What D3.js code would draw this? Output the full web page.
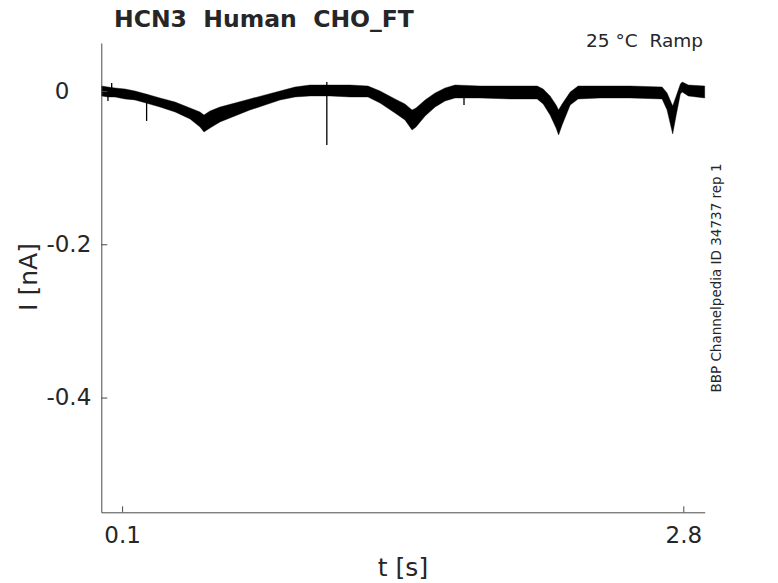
<!DOCTYPE html>
<html>
<head>
<meta charset="utf-8">
<script src="https://cdn.jsdelivr.net/npm/d3@7"></script>
<style>
  html, body { margin: 0; padding: 0; background: #fff; }
  svg { display: block; }
  text { font-family: "DejaVu Sans", sans-serif; fill: #262626; white-space: pre; }
</style>
</head>
<body>
<svg id="chart" width="778" height="583"></svg>
<script>
// ---- data ----
const title = "HCN3  Human  CHO_FT";
const subtitle = "25 °C  Ramp";
const sideNote = "BBP Channelpedia ID 34737 rep 1";
const xLabel = "t [s]";
const yLabel = "I [nA]";
const xTicks = [0.1, 2.8];
const yTicks = [0, -0.2, -0.4];
const xDomain = [0, 2.903];
const yDomain = [-0.5497, 0.0626];

// time (s) and the upper / lower edge of the noisy current trace (nA)
const time = [0.001,0.032,0.066,0.114,0.162,0.215,0.282,0.355,0.427,0.475,0.494,0.523,0.571,0.643,0.715,0.788,0.860,0.932,1.004,1.100,1.197,1.283,1.341,1.413,1.461,1.495,1.514,1.558,1.606,1.654,1.702,1.822,1.967,2.097,2.126,2.159,2.188,2.200,2.217,2.256,2.294,2.400,2.544,2.698,2.722,2.749,2.766,2.786,2.795,2.824,2.903];
const upper = [0.0065,0.0052,0.0039,0.0026,0,-0.0039,-0.0091,-0.0144,-0.0222,-0.0274,-0.0313,-0.0261,-0.0209,-0.0157,-0.0104,-0.0052,0,0.0052,0.0078,0.0078,0.0078,0.0065,0,-0.0104,-0.0170,-0.0248,-0.0222,-0.0117,-0.0026,0.0039,0.0078,0.0065,0.0065,0.0065,0.0026,-0.0065,-0.0183,-0.0248,-0.0170,-0.0013,0.0065,0.0065,0.0065,0.0052,-0.0026,-0.0196,-0.0065,0.0091,0.0117,0.0078,0.0065];
const lower = [-0.0065,-0.0078,-0.0078,-0.0104,-0.0117,-0.0157,-0.0209,-0.0274,-0.0365,-0.0470,-0.0535,-0.0483,-0.0404,-0.0326,-0.0248,-0.0183,-0.0117,-0.0078,-0.0065,-0.0065,-0.0078,-0.0078,-0.0157,-0.0287,-0.0378,-0.0509,-0.0470,-0.0326,-0.0209,-0.0130,-0.0091,-0.0091,-0.0104,-0.0104,-0.0170,-0.0313,-0.0483,-0.0574,-0.0444,-0.0183,-0.0104,-0.0091,-0.0091,-0.0104,-0.0248,-0.0561,-0.0313,-0.0039,-0.0013,-0.0065,-0.0091];

// brief artefact spikes: time, top, bottom (nA)
const spikeTime = [0.032, 0.050, 0.218, 1.085, 1.745];
const spikeTop  = [-0.002, 0.0104, -0.004, 0.0117, -0.005];
const spikeBot  = [-0.013, -0.004, -0.0391, -0.0704, -0.0183];

// ---- drawing ----
const svg = d3.select("#chart");
const x = d3.scaleLinear().domain(xDomain).range([101.3, 704.7]);
const y = d3.scaleLinear().domain(yDomain).range([512.3, 43]);

const band = time.map((t, i) => ({ t, hi: upper[i], lo: lower[i] }));

svg.append("path")
  .datum(band)
  .attr("d", d3.area().x(d => x(d.t)).y0(d => y(d.lo)).y1(d => y(d.hi)))
  .attr("fill", "#000")
  .attr("stroke", "#000")
  .attr("stroke-width", 0.4)
  .attr("stroke-linejoin", "round");

svg.append("g").selectAll("line")
  .data(spikeTime.map((t, i) => ({ t, a: spikeTop[i], b: spikeBot[i] })))
  .join("line")
  .attr("x1", d => x(d.t)).attr("x2", d => x(d.t))
  .attr("y1", d => y(d.a)).attr("y2", d => y(d.b))
  .attr("stroke", "#000").attr("stroke-width", 1.3);

// axes (MATLAB-like: inward ticks, no box)
const axisColor = "#4a4a4a";
const fmt = d => d === 0 ? "0" : d3.format(".1f")(d).replace("\u2212", "-");
const xAxis = svg.append("g").attr("transform", "translate(0,512.3)")
  .call(d3.axisBottom(x).tickValues(xTicks).tickSizeInner(-6).tickSizeOuter(0).tickPadding(14)
        .tickFormat(fmt));
const yAxis = svg.append("g").attr("transform", "translate(101.3,0)")
  .call(d3.axisLeft(y).tickValues(yTicks).tickSizeInner(-6).tickSizeOuter(0).tickPadding(10)
        .tickFormat(fmt));
[xAxis, yAxis].forEach(g => {
  g.select(".domain").attr("stroke", axisColor).attr("stroke-width", 1);
  g.selectAll(".tick line").attr("stroke", axisColor);
  g.selectAll(".tick text").attr("font-family", "DejaVu Sans").attr("font-size", 23).attr("fill", "#262626");
});
// the "0" label sits further left in the reference
yAxis.selectAll(".tick text").filter(d => d === 0).attr("dx", "-22px");

// labels
svg.append("text").attr("x", 114).attr("y", 27)
  .attr("font-size", 23.5).attr("font-weight", "bold").attr("fill", "#000")
  .text(title);
svg.append("text").attr("x", 703).attr("y", 47).attr("text-anchor", "end")
  .attr("font-size", 18.5).attr("fill", "#000")
  .text(subtitle);
svg.append("text").attr("x", 403).attr("y", 576).attr("text-anchor", "middle")
  .attr("font-size", 25).text(xLabel);
svg.append("text").attr("transform", "translate(37,277) rotate(-90)").attr("text-anchor", "middle")
  .attr("font-size", 25).text(yLabel);
svg.append("text").attr("transform", "translate(721,278) rotate(-90)").attr("text-anchor", "middle")
  .attr("font-size", 13.5).attr("fill", "#000").text(sideNote);
</script>
</body>
</html>
